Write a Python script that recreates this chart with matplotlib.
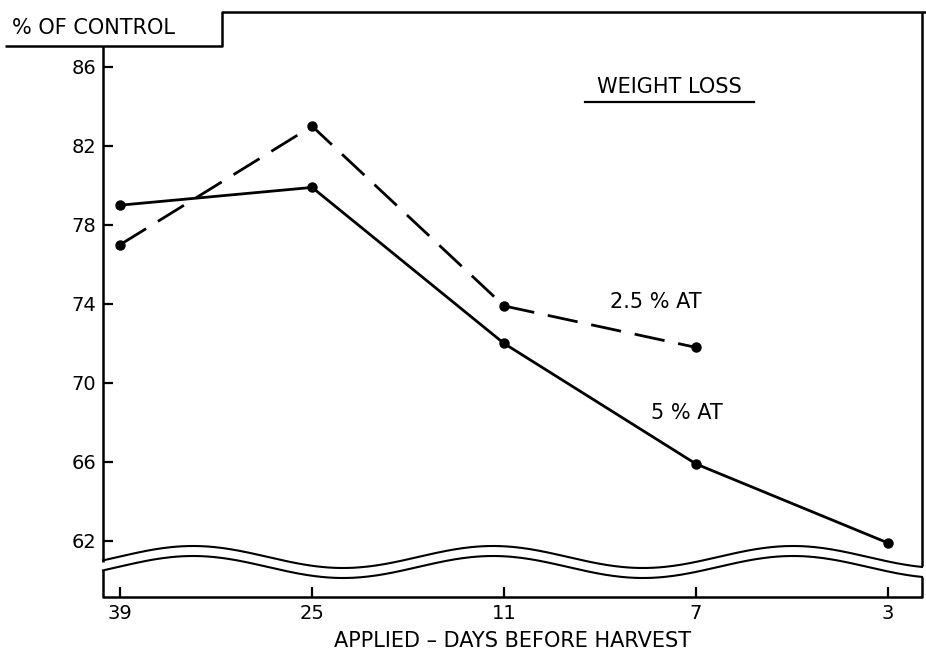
import numpy as np
import matplotlib
matplotlib.use("Agg")
import matplotlib.pyplot as plt

# days before harvest (categorical x axis)
days = ["39", "25", "11", "7", "3"]
# weight loss, % of control
at_5 = [79.0, 79.9, 72.0, 65.9, 61.9]
at_25 = [77.0, 83.0, 73.9, 71.8]
yticks = [62, 66, 70, 74, 78, 82, 86]

plt.rcParams['font.family'] = ['DejaVu Sans']
W, H = 926, 656
fig = plt.figure(figsize=(W / 100, H / 100), dpi=100)

# data axes, placed in pixel terms of the reference
L, R, T, B = 103, 922, 12, 597
ax = fig.add_axes([L / W, 1 - B / H, (R - L) / W, (B - T) / H])
xs = np.arange(len(days))
ax.plot(xs, at_5, '-', color='black', lw=2.0, marker='o', ms=6.5, zorder=3)
ax.plot(xs[:len(at_25)], at_25, color='black', lw=2.0, marker='o', ms=6.5,
        dashes=(11, 5), zorder=3)

ax.set_xlim(-0.089, 4.177)
ax.set_ylim(59.165, 88.78)
ax.set_xticks(xs)
ax.set_xticklabels(days)
ax.set_yticks(yticks)
ax.tick_params(axis='both', direction='in', length=7, width=1.6,
               labelsize=14, color='black')
ax.tick_params(axis='y', pad=5)
ax.tick_params(axis='x', pad=5)
for s in ax.spines.values():
    s.set_visible(False)
ax.set_xlabel("APPLIED \u2013 DAYS BEFORE HARVEST", fontsize=15, labelpad=6)

ax.text(2.86, 85.0, "WEIGHT LOSS", fontsize=15, ha='center', va='center')
ax.plot([2.42, 3.30], [84.2, 84.2], color='black', lw=1.6, clip_on=False)
ax.text(2.79, 74.1, "2.5 % AT", fontsize=15, ha='center', va='center')
ax.text(2.95, 68.5, "5 % AT", fontsize=15, ha='center', va='center')

# overlay in pixel coords for the frame and axis break
ov = fig.add_axes([0, 0, 1, 1])
ov.set_xlim(0, W)
ov.set_ylim(H, 0)
ov.axis('off')
k = dict(color='black', lw=1.8, solid_capstyle='butt')
ov.plot([5, 222, 222, W], [46, 46, T, T], **k)
ov.plot([R, R], [T, 566], **k)
ov.plot([L, L], [46, 562], **k)

wx = np.linspace(L, R, 400)
wave = 557 - 11 * np.cos((wx - 193) / 300 * 2 * np.pi)
ov.plot(wx, wave, color='black', lw=1.5)
ov.plot(wx, wave + 10, color='black', lw=1.5)
ov.plot([L, L, R, R], [wave[0] + 10, B, B, wave[-1] + 10], **k)

ov.text(12, 28, "% OF CONTROL", fontsize=15, ha='left', va='center')

fig.savefig("out.png", dpi=100)
